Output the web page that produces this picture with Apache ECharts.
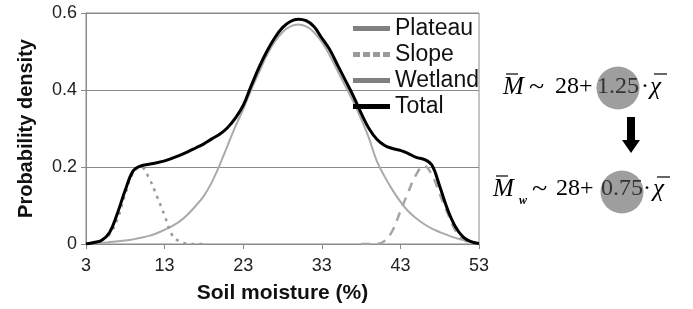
<!DOCTYPE html>
<html>
<head>
<meta charset="utf-8">
<script src="https://cdn.jsdelivr.net/npm/echarts@6/dist/echarts.min.js"></script>
<style>
  html, body { margin: 0; padding: 0; background: #fff; }
  #main { width: 693px; height: 309px; }
</style>
</head>
<body>
<div id="main"></div>
<script>
// soil moisture (%) from 3 to 53
var moisture = [];
for (var m = 3; m <= 53; m++) moisture.push(String(m));

var plateau = [0, 0.002, 0.003, 0.005, 0.007, 0.009, 0.012, 0.016, 0.021, 0.028,
  0.037, 0.047, 0.06, 0.078, 0.1, 0.125, 0.16, 0.205, 0.255, 0.305,
  0.35, 0.40, 0.445, 0.49, 0.525, 0.55, 0.565, 0.57, 0.565, 0.55,
  0.525, 0.49, 0.45, 0.41, 0.37, 0.325, 0.275, 0.215, 0.175, 0.14,
  0.11, 0.085, 0.067, 0.052, 0.04, 0.031, 0.023, 0.016, 0.01, 0.006, 0.003];

var slope = [0, 0.003, 0.01, 0.025, 0.065, 0.13, 0.185, 0.2, 0.172, 0.125,
  0.074, 0.022, 0.006, 0.001, 0, 0];

// wetland starts at 38
var wetlandStart = 38;
var wetland = [0, 0, 0, 0.008, 0.035, 0.085, 0.135, 0.18, 0.204, 0.18,
  0.13, 0.08, 0.035, 0.012, 0.003, 0];

var total = [0, 0.004, 0.01, 0.03, 0.08, 0.14, 0.19, 0.203, 0.207, 0.211,
  0.216, 0.223, 0.231, 0.24, 0.25, 0.26, 0.273, 0.285, 0.302, 0.327,
  0.36, 0.41, 0.458, 0.5, 0.535, 0.562, 0.578, 0.584, 0.58, 0.565,
  0.535, 0.505, 0.465, 0.425, 0.385, 0.34, 0.3, 0.272, 0.256, 0.248,
  0.243, 0.235, 0.225, 0.22, 0.205, 0.15, 0.09, 0.045, 0.018, 0.006, 0.001];

var yTicks = [0, 0.2, 0.4, 0.6];

function pad(arr, start) {
  var out = [];
  for (var i = 0; i < moisture.length; i++) {
    var k = i - (start - 3);
    out.push(k >= 0 && k < arr.length ? arr[k] : null);
  }
  return out;
}

var solidIcon = 'path://M0,0H37V5H0Z';
var dotIcon = 'path://M0,0H7V5H0Z M10,0H17V5H10Z M20,0H27V5H20Z M30,0H37V5H30Z';

var myChart = echarts.init(document.getElementById('main'));
var serif = '"Liberation Serif", "Times New Roman", serif';
var option = {
  animation: false,
  textStyle: { fontFamily: '"Liberation Sans", Arial, sans-serif' },
  grid: {
    left: 86, right: 214, top: 13, bottom: 63,
    show: true, borderColor: '#8a8a8a', borderWidth: 1
  },
  legend: {
    orient: 'vertical',
    left: 348, top: 12,
    itemWidth: 37, itemHeight: 5, itemGap: 3,
    textStyle: { fontSize: 23, lineHeight: 21, color: '#111' },
    data: [
      { name: 'Plateau', icon: solidIcon },
      { name: 'Slope', icon: dotIcon },
      { name: 'Wetland', icon: solidIcon },
      { name: 'Total', icon: solidIcon }
    ]
  },
  xAxis: {
    type: 'category',
    data: moisture,
    boundaryGap: false,
    name: 'Soil moisture (%)',
    nameLocation: 'middle',
    nameGap: 39,
    nameTextStyle: { fontSize: 21, fontWeight: 'bold', color: '#111' },
    axisLine: { lineStyle: { color: '#8a8a8a' } },
    axisTick: { interval: 9, length: 5, lineStyle: { color: '#8a8a8a' } },
    axisLabel: { interval: 9, fontSize: 18, color: '#222', margin: 13 },
    splitLine: { show: false }
  },
  yAxis: {
    type: 'value',
    min: yTicks[0], max: yTicks[yTicks.length - 1], interval: 0.2,
    name: 'Probability density',
    nameLocation: 'middle',
    nameGap: 50,
    nameTextStyle: { fontSize: 20, fontWeight: 'bold', color: '#111' },
    axisLine: { show: true, lineStyle: { color: '#8a8a8a' } },
    axisTick: { show: true, length: 5, lineStyle: { color: '#8a8a8a' } },
    axisLabel: { fontSize: 18, color: '#222', margin: 9 },
    splitLine: { lineStyle: { color: '#8a8a8a', width: 1 } }
  },
  series: [
    {
      name: 'Plateau', type: 'line', data: plateau, smooth: 0.4,
      symbol: 'none', lineStyle: { color: '#aaa', width: 2 }, itemStyle: { color: '#808080' }
    },
    {
      name: 'Slope', type: 'line', data: pad(slope, 3), smooth: 0.4,
      symbol: 'none', lineStyle: { color: '#999', width: 2.5, type: [3, 5] }, itemStyle: { color: '#9a9a9a' }
    },
    {
      name: 'Wetland', type: 'line', data: pad(wetland, wetlandStart), smooth: 0.4,
      symbol: 'none', lineStyle: { color: '#a5a5a5', width: 2.5, type: [9, 7] }, itemStyle: { color: '#808080' }
    },
    {
      name: 'Total', type: 'line', data: total, smooth: 0.4, z: 5,
      symbol: 'none', lineStyle: { color: '#000', width: 3 }, itemStyle: { color: '#000' }
    }
  ],
  graphic: [
    // first formula
    { type: 'circle', shape: { cx: 618, cy: 88, r: 21.5 }, style: { fill: '#9e9e9e' } },
    { type: 'text', x: 503, y: 87, style: { text: 'M', font: 'italic 25px ' + serif, fill: '#000', verticalAlign: 'middle' } },
    { type: 'line', shape: { x1: 506, y1: 74, x2: 518, y2: 74 }, style: { stroke: '#000', lineWidth: 1.2 } },
    { type: 'text', x: 529, y: 88, style: { text: '~', font: '28px ' + serif, fill: '#000', verticalAlign: 'middle' } },
    { type: 'text', x: 555, y: 87, style: { text: '28+', font: '24px ' + serif, fill: '#000', verticalAlign: 'middle' } },
    { type: 'text', x: 597, y: 87, style: { text: '1.25', font: '24px ' + serif, fill: '#333', verticalAlign: 'middle' } },
    { type: 'text', x: 641, y: 87, style: { text: '·', font: '24px ' + serif, fill: '#000', verticalAlign: 'middle' } },
    { type: 'text', x: 650, y: 87, style: { text: 'χ', font: 'italic 25px ' + serif, fill: '#000', verticalAlign: 'middle' } },
    { type: 'line', shape: { x1: 654, y1: 74, x2: 667, y2: 74 }, style: { stroke: '#000', lineWidth: 1.2 } },
    // arrow
    { type: 'polygon', shape: { points: [[627, 117], [635, 117], [635, 140], [640, 140], [631, 153], [622, 140], [627, 140]] }, style: { fill: '#000' } },
    // second formula
    { type: 'circle', shape: { cx: 622, cy: 192, r: 21.5 }, style: { fill: '#9e9e9e' } },
    { type: 'text', x: 493, y: 189, style: { text: 'M', font: 'italic 25px ' + serif, fill: '#000', verticalAlign: 'middle' } },
    { type: 'line', shape: { x1: 496, y1: 176, x2: 508, y2: 176 }, style: { stroke: '#000', lineWidth: 1.2 } },
    { type: 'text', x: 519, y: 201, style: { text: 'w', font: 'italic bold 12px ' + serif, fill: '#000', verticalAlign: 'middle' } },
    { type: 'text', x: 532, y: 190, style: { text: '~', font: '28px ' + serif, fill: '#000', verticalAlign: 'middle' } },
    { type: 'text', x: 556, y: 189, style: { text: '28+', font: '24px ' + serif, fill: '#000', verticalAlign: 'middle' } },
    { type: 'text', x: 601, y: 189, style: { text: '0.75', font: '24px ' + serif, fill: '#333', verticalAlign: 'middle' } },
    { type: 'text', x: 643, y: 189, style: { text: '·', font: '24px ' + serif, fill: '#000', verticalAlign: 'middle' } },
    { type: 'text', x: 653, y: 189, style: { text: 'χ', font: 'italic 25px ' + serif, fill: '#000', verticalAlign: 'middle' } },
    { type: 'line', shape: { x1: 657, y1: 177, x2: 670, y2: 177 }, style: { stroke: '#000', lineWidth: 1.2 } }
  ]
};
myChart.setOption(option);
</script>
</body>
</html>
